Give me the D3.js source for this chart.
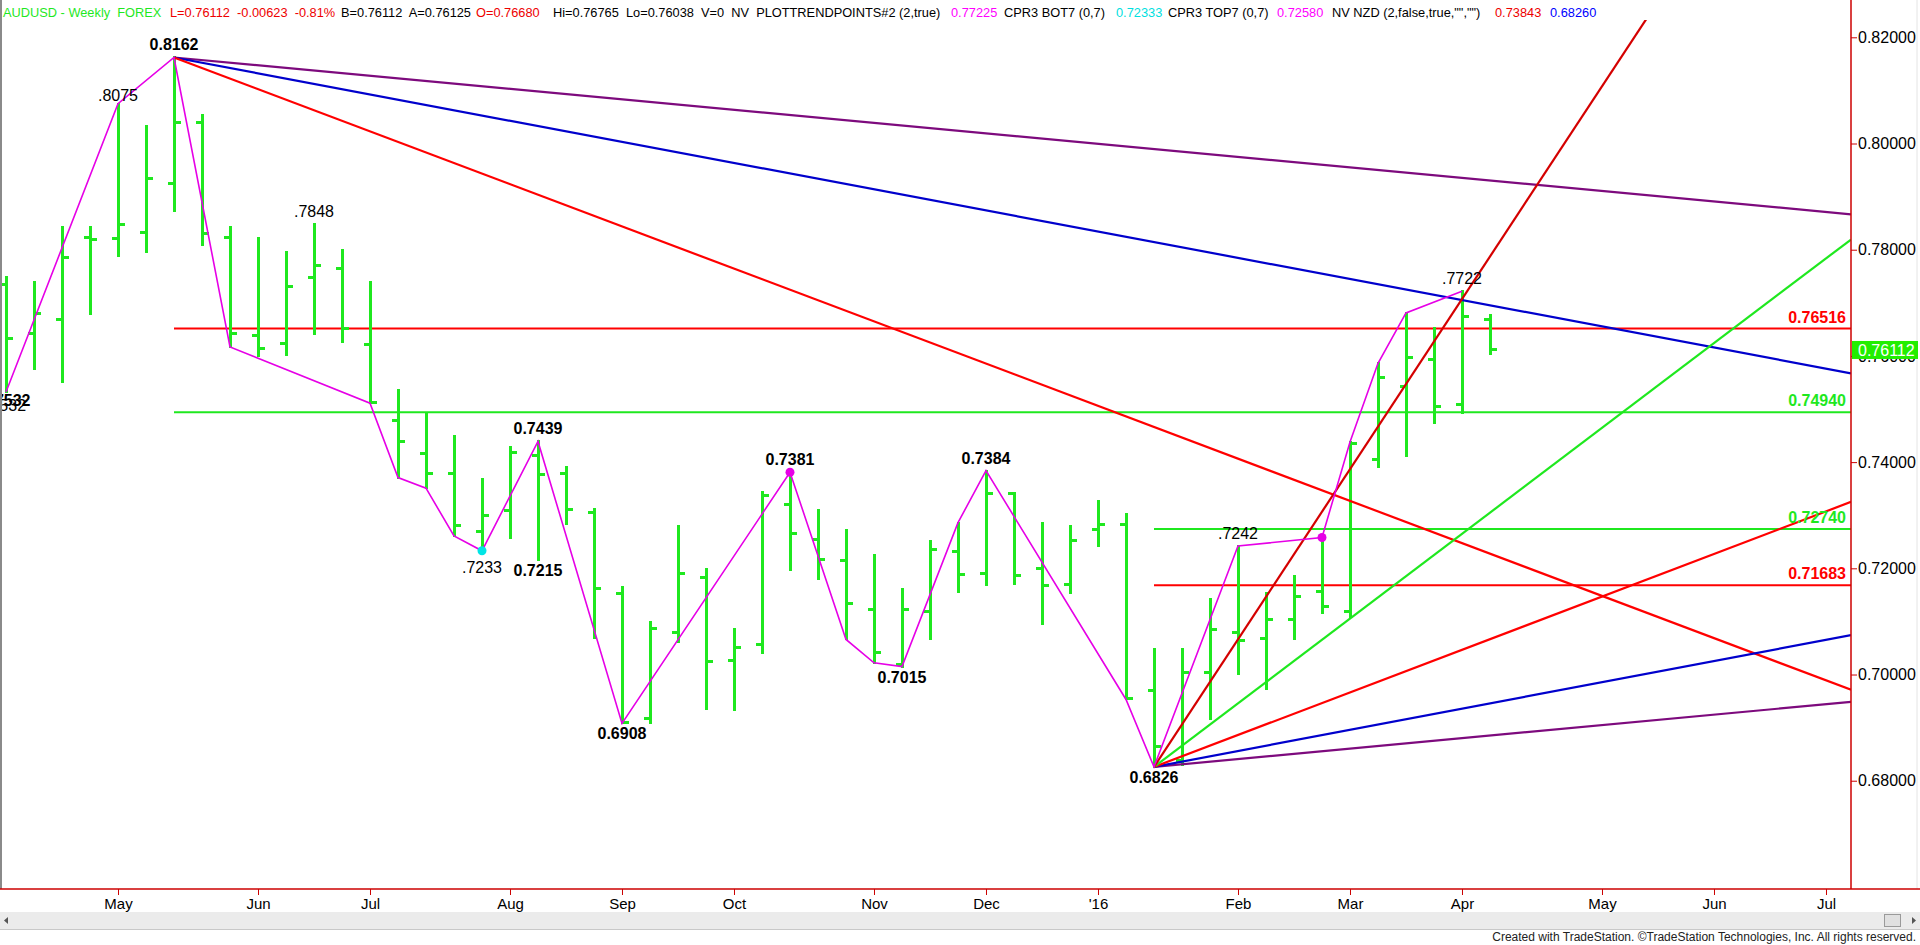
<!DOCTYPE html>
<html><head><meta charset="utf-8">
<script src="https://cdn.jsdelivr.net/npm/d3@7"></script>
<style>
body{margin:0;background:#fff;overflow:hidden}
svg{display:block}
text{font-family:"Liberation Sans",Arial,Helvetica,sans-serif}
</style></head>
<body><svg id="c" width="1920" height="945"></svg>
<script>
// ---------- DATA ----------
// weekly AUDUSD bars, first bar = week of 3 Apr 2015
const opens  = [0.7734,0.7643,0.7669,0.7823,0.7822,0.7833,0.7924,0.8040,0.7823,0.7638,
                0.7624,0.7748,0.7765,0.7621,0.7479,0.7417,0.7378,0.7270,0.7308,0.7413,
                0.7378,0.7305,0.7153,0.6918,0.7079,0.7183,0.7027,0.7056,0.7321,0.7255,
                0.7214,0.7122,0.7019,0.7118,0.7231,0.7191,0.7341,0.7200,0.7169,0.7273,
                0.7282,0.6969,0.6839,0.7003,0.7079,0.7068,0.7104,0.7156,0.7118,0.7405,
                0.7543,0.7594,0.7509,0.7668];
const highs  = [0.7748,0.7740,0.7843,0.7842,0.8075,0.8033,0.8162,0.8054,0.7842,0.7822,
                0.7795,0.7848,0.7799,0.7740,0.7535,0.7492,0.7450,0.7368,0.7429,0.7439,
                0.7390,0.7312,0.7164,0.7099,0.7280,0.7198,0.7085,0.7344,0.7381,0.7310,
                0.7272,0.7225,0.7161,0.7251,0.7286,0.7384,0.7342,0.7285,0.7280,0.7327,
                0.7302,0.7049,0.7048,0.7142,0.7242,0.7153,0.7186,0.7258,0.7438,0.7586,
                0.7681,0.7652,0.7722,0.76765];
const lows   = [0.7532,0.7575,0.7550,0.7679,0.7789,0.7796,0.7873,0.7808,0.7617,0.7599,
                0.7602,0.7641,0.7627,0.7511,0.7371,0.7351,0.7261,0.7233,0.7257,0.7215,
                0.7283,0.7068,0.6908,0.6909,0.7062,0.6935,0.6933,0.7040,0.7196,0.7179,
                0.7066,0.7022,0.7015,0.7066,0.7156,0.7169,0.7170,0.7095,0.7153,0.7242,
                0.6953,0.6826,0.6829,0.6916,0.7001,0.6972,0.7066,0.7115,0.7109,0.7391,
                0.7412,0.7474,0.7492,0.76038];
const closes = [0.7633,0.7680,0.7786,0.7820,0.7847,0.7935,0.8040,0.7831,0.7643,0.7614,
                0.7730,0.7770,0.7652,0.7512,0.7438,0.7379,0.7281,0.7300,0.7418,0.7377,
                0.7310,0.7162,0.6910,0.7087,0.7191,0.7024,0.7051,0.7338,0.7266,0.7216,
                0.7134,0.7041,0.7123,0.7236,0.7189,0.7341,0.7187,0.7167,0.7253,0.7283,
                0.6955,0.6864,0.7003,0.7085,0.7064,0.7103,0.7147,0.7128,0.7435,0.7560,
                0.7597,0.7504,0.7675,0.76112];

// month axis: bar index of first week of each month
const monthBars   = [4,9,13,18,22,26,31,35,39,44,48,52,57,61,65];
const monthLabels = ["May","Jun","Jul","Aug","Sep","Oct","Nov","Dec","'16","Feb","Mar","Apr","May","Jun","Jul"];

const priceTicks = [0.68,0.70,0.72,0.74,0.76,0.78,0.80,0.82];

// swing (zigzag) points
const swingBars   = [0,4,6,8,13,14,15,16,17,19,22,28,30,31,32,34,35,40,41,44,47,48,49,50,52];
const swingPrices = [0.7532,0.8075,0.8162,0.7617,0.7511,0.7371,0.7351,0.7261,0.7233,0.7439,
                     0.6908,0.7381,0.7066,0.7022,0.7015,0.7286,0.7384,0.6953,0.6826,0.7242,
                     0.7258,0.7438,0.7586,0.7681,0.7722];

// swing labels
const labelBars   = [0,0,4,6,11,17,19,19,22,28,32,35,41,44,52];
const labelPrices = [0.7532,0.7532,0.8075,0.8162,0.7848,0.7233,0.7439,0.7215,0.6908,0.7381,0.7015,0.7384,0.6826,0.7242,0.7722];
const labelTexts  = ["0.7532",".7532",".8075","0.8162",".7848",".7233","0.7439","0.7215","0.6908","0.7381","0.7015","0.7384","0.6826",".7242",".7722"];
const labelSides  = ["low","low","high","high","high","low","high","low","low","high","low","high","low","high","high"];

// marker dots
const dotBars   = [17,28,47];
const dotPrices = [0.7233,0.7381,0.7258];

// horizontal levels
const levelPrices    = [0.76516,0.74940,0.72740,0.71683];
const levelStartBars = [6,6,41,41];

// fan lines (anchor + slope in price per week)
const fanHighBar = 6,  fanHighPrice = 0.8162;
const fanHighSlopes = [-0.000493,-0.000993,-0.001988];
const fanLowBar = 41, fanLowPrice = 0.6826;
const fanLowSlopes  = [0.000492,0.000997,0.002005,0.00399,0.00801];

const lastPrice = 0.76112;

// ---------- STYLES ----------
const C = {green:"#1fe81f", red:"#ff0000", dred:"#d40000", blue:"#0000cc", purple:"#7d0a7d",
           magenta:"#e600e6", cyan:"#00e5e5", axis:"#cc0000"};
const levelColors   = [C.red, C.green, C.green, C.red];
const fanHighColors = [C.purple, C.blue, C.red];
const fanLowColors  = [C.purple, C.blue, C.red, C.green, C.dred];

// ---------- LAYOUT ----------
const W=1920,H=945, L=1, R=1851, T=20, B=889;
const svg = d3.select("#c");
const x = d3.scaleLinear().domain([-0.1786, 65.893]).range([L, R]);
const y = d3.scaleLinear().domain([0.65961, 0.82326]).range([B, T]);
const xMax = x.domain()[1];

svg.append("defs").append("clipPath").attr("id","plot")
  .append("rect").attr("x",L).attr("y",T).attr("width",R-L).attr("height",B-T);

const g = svg.append("g").attr("clip-path","url(#plot)");

// horizontal levels
levelPrices.forEach((p,i)=>{
  g.append("line").attr("x1",x(levelStartBars[i])).attr("x2",R)
   .attr("y1",y(p)).attr("y2",y(p)).attr("stroke",levelColors[i]).attr("stroke-width",2);
});

// OHLC bars
const bars = d3.range(opens.length);
const bg = g.append("g").attr("stroke",C.green).attr("stroke-width",3).attr("shape-rendering","crispEdges");
bars.forEach(i=>{
  const cx = Math.round(x(i));
  bg.append("line").attr("x1",cx).attr("x2",cx).attr("y1",y(highs[i])-1).attr("y2",y(lows[i])+1);
  bg.append("line").attr("x1",cx-6).attr("x2",cx).attr("y1",y(opens[i])).attr("y2",y(opens[i]));
  bg.append("line").attr("x1",cx).attr("x2",cx+7).attr("y1",y(closes[i])).attr("y2",y(closes[i]));
});

// fan lines
fanHighSlopes.forEach((s,i)=>{
  g.append("line").attr("x1",x(fanHighBar)).attr("y1",y(fanHighPrice))
   .attr("x2",x(xMax)).attr("y2",y(fanHighPrice+s*(xMax-fanHighBar)))
   .attr("stroke",fanHighColors[i]).attr("stroke-width",2.2);
});
fanLowSlopes.forEach((s,i)=>{
  g.append("line").attr("x1",x(fanLowBar)).attr("y1",y(fanLowPrice))
   .attr("x2",x(xMax)).attr("y2",y(fanLowPrice+s*(xMax-fanLowBar)))
   .attr("stroke",fanLowColors[i]).attr("stroke-width",2.2);
});

// zigzag
g.append("path").datum(swingBars.map((b,i)=>[b,swingPrices[i]]))
  .attr("d",d3.line().x(d=>x(d[0])).y(d=>y(d[1])))
  .attr("fill","none").attr("stroke",C.magenta).attr("stroke-width",1.6);

// dots
const dotColors=[C.cyan,C.magenta,C.magenta];
dotBars.forEach((b,i)=>{
  g.append("circle").attr("cx",x(b)).attr("cy",y(dotPrices[i])).attr("r",4.5).attr("fill",dotColors[i]);
});

// swing labels
const lg = svg.append("g");
labelTexts.forEach((t,i)=>{
  const bold = t.startsWith("0.");
  let dy = labelSides[i]==="high" ? -7 : 16;
  if (t===".7233") dy = 22;
  if (t===".8075") dy = -2.5;
  if (t==="0.7532") dy = 14;
  if (t===".7532") dy = 19;
  lg.append("text").attr("x",x(labelBars[i])).attr("y",y(labelPrices[i])+dy)
   .attr("text-anchor","middle").attr("font-size",16).attr("font-weight",bold?"bold":"normal")
   .attr("fill","#000").text(t);
});

// level labels on right
levelPrices.forEach((p,i)=>{
  svg.append("text").attr("x",R-5).attr("y",y(p)-6).attr("text-anchor","end")
   .attr("font-size",16).attr("font-weight","bold").attr("fill",levelColors[i]).text(d3.format(".5f")(p));
});

// left border
svg.append("line").attr("x1",1).attr("x2",1).attr("y1",0).attr("y2",B).attr("stroke","#8a8a8a").attr("stroke-width",2);

// y axis
const ya = svg.append("g").attr("transform",`translate(${R},0)`)
  .call(d3.axisRight(y).tickValues(priceTicks).tickFormat(d3.format(".5f")).tickSize(6).tickPadding(1));
ya.select(".domain").remove();
ya.selectAll("line").attr("stroke",C.axis);
ya.selectAll("text").attr("font-size",16).attr("fill","#000").attr("font-family","Liberation Sans, Arial, sans-serif");
svg.append("line").attr("x1",R).attr("x2",R).attr("y1",0).attr("y2",B).attr("stroke",C.axis).attr("stroke-width",1.5);
svg.append("line").attr("x1",1917).attr("x2",1917).attr("y1",0).attr("y2",B).attr("stroke","#e4e4e4").attr("stroke-width",1);

// last price box
svg.append("rect").attr("x",R+1).attr("y",y(lastPrice)-9).attr("width",66).attr("height",18).attr("fill","#22ee00");
svg.append("text").attr("x",R+7).attr("y",y(lastPrice)+6).attr("font-size",16).attr("fill","#fff").text(d3.format(".5f")(lastPrice));

// x axis
const xa = svg.append("g").attr("transform",`translate(0,${B})`)
  .call(d3.axisBottom(x).tickValues(monthBars).tickFormat((d,i)=>monthLabels[i]).tickSize(6).tickPadding(3));
xa.select(".domain").remove();
xa.selectAll("line").attr("stroke",C.axis);
xa.selectAll("text").attr("font-size",15).attr("fill","#000").attr("font-family","Liberation Sans, Arial, sans-serif");
svg.append("line").attr("x1",0).attr("x2",W).attr("y1",B).attr("y2",B).attr("stroke",C.axis).attr("stroke-width",1.5);

// scrollbar
svg.append("rect").attr("x",0).attr("y",912).attr("width",W).attr("height",17).attr("fill","#ebebeb");
svg.append("line").attr("x1",0).attr("x2",W).attr("y1",929.5).attr("y2",929.5).attr("stroke","#c8c8c8");
svg.append("path").attr("d","M4,920.5 L8,917 L8,924 Z").attr("fill","#555");
svg.append("path").attr("d","M1912,917 L1916,920.5 L1912,924 Z").attr("fill","#555");
svg.append("rect").attr("x",1884.5).attr("y",914.5).attr("width",16).attr("height",12).attr("fill","#e0e0e0").attr("stroke","#9a9a9a");

// footer
svg.append("text").attr("x",1916).attr("y",941).attr("text-anchor","end").attr("font-size",12).attr("fill","#222")
  .text("Created with TradeStation. \u00A9TradeStation Technologies, Inc. All rights reserved.");

// header
const header = [
 ["AUDUSD - Weekly  FOREX", C.green, 3],
 ["L=0.76112  -0.00623  -0.81%", "#ee0000", 170],
 ["B=0.76112  A=0.76125", "#000", 341],
 ["O=0.76680", "#ee0000", 476],
 ["Hi=0.76765  Lo=0.76038  V=0  NV  PLOTTRENDPOINTS#2 (2,true)", "#000", 553],
 ["0.77225", "#ff00ff", 951],
 ["CPR3 BOT7 (0,7)", "#000", 1004],
 ["0.72333", "#00e0e0", 1116],
 ["CPR3 TOP7 (0,7)", "#000", 1168],
 ["0.72580", "#ff00ff", 1277],
 ['NV NZD (2,false,true,"","")', "#000", 1332],
 ["0.73843", "#ee0000", 1495],
 ["0.68260", "#0000ff", 1550]
];
header.forEach(h=>{
  svg.append("text").attr("x",h[2]).attr("y",16.5).attr("font-size",12.8).attr("fill",h[1])
    .attr("xml:space","preserve").style("white-space","pre").text(h[0]);
});
</script></body></html>
